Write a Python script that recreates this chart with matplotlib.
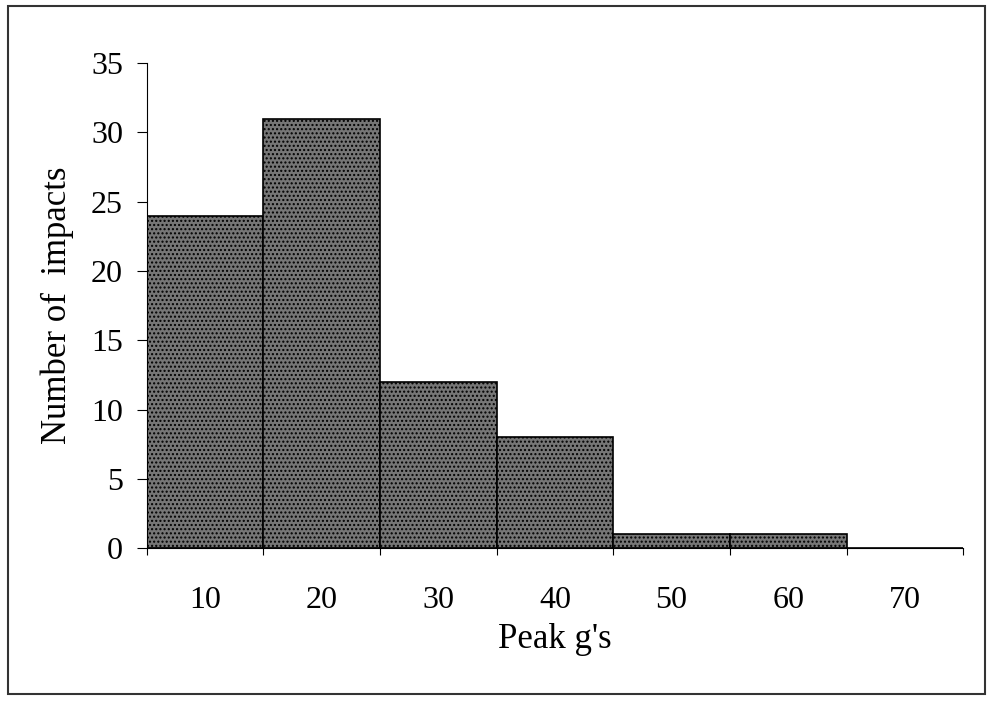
import matplotlib.pyplot as plt
from matplotlib.patches import Rectangle

# histogram data
categories = ['10', '20', '30', '40', '50', '60', '70']
impacts = [24, 31, 12, 8, 1, 1, 0]

plt.rcParams['font.family'] = ['Liberation Serif', 'DejaVu Serif']

fig = plt.figure(figsize=(9.91, 7.01), dpi=100)
ax = fig.add_axes([0.148, 0.218, 0.824, 0.692])

positions = range(len(categories))
ax.bar(positions, impacts, width=1.0, color='#767676', edgecolor='black',
       linewidth=1.2, hatch='....', zorder=2)

ax.set_xlim(-0.5, len(categories) - 0.5)
ax.set_ylim(0, 35)
ax.set_yticks(range(0, 36, 5))

# category labels centred, ticks on boundaries (spreadsheet style)
ax.set_xticks([p - 0.5 for p in range(len(categories) + 1)])
ax.set_xticklabels([])
ax.set_xticks(list(positions), minor=True)
ax.set_xticklabels(categories, minor=True)
ax.tick_params(axis='x', which='major', direction='out', length=5, width=0.8)
ax.tick_params(axis='x', which='minor', length=0, pad=27, labelsize=23)
ax.tick_params(axis='y', direction='out', length=7, width=0.8, pad=10, labelsize=23)

ax.spines['top'].set_visible(False)
ax.spines['right'].set_visible(False)
ax.spines['left'].set_linewidth(0.8)
ax.spines['bottom'].set_linewidth(0.8)

ax.set_ylabel('Number of  impacts', fontsize=25, labelpad=12)
ax.set_xlabel("Peak g's", fontsize=25, labelpad=6)

# frame around the whole chart
fig.patches.append(Rectangle((0.008, 0.01), 0.986, 0.982, transform=fig.transFigure,
                             fill=False, edgecolor='#333333', linewidth=1.5))

fig.savefig('out.png', dpi=100)
